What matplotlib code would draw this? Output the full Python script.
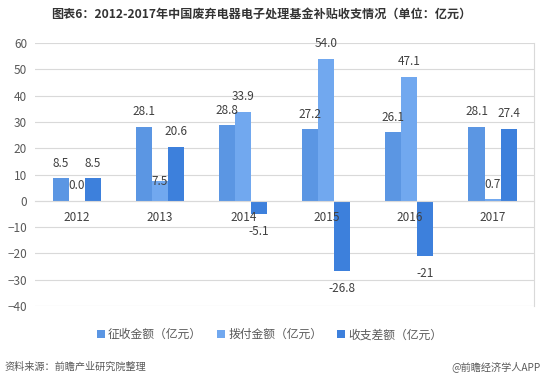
import matplotlib.pyplot as plt
import numpy as np

plt.rcParams['font.family'] = ['Noto Sans CJK SC', 'DejaVu Sans']

years = ['2012', '2013', '2014', '2015', '2016', '2017']
collected = [8.5, 28.1, 28.8, 27.2, 26.1, 28.1]
paid = [0.0, 7.5, 33.9, 54.0, 47.1, 0.7]
balance = [8.5, 20.6, -5.1, -26.8, -21, 27.4]
balance_text = ['8.5', '20.6', '-5.1', '-26.8', '-21', '27.4']
series_names = ['征收金额（亿元）', '拨付金额（亿元）', '收支差额（亿元）']
colors = ['#5b96e3', '#71a8ef', '#3d80dc']

fig = plt.figure(figsize=(5.45, 3.77), dpi=100)
ax = fig.add_axes([0.065, 0.188, 0.915, 0.698])

x = np.arange(len(years))
w = 0.193
grid_c = '#d9d9d9'
txt_c = '#404040'

all_series = [collected, paid, balance]
for i, vals in enumerate(all_series):
    bars = ax.bar(x + (i - 1) * w, vals, w, color=colors[i], label=series_names[i], zorder=2)
    for j, b in enumerate(bars):
        v = vals[j]
        s = balance_text[j] if i == 2 else f'{v:.1f}'
        cx = b.get_x() + b.get_width() / 2
        if v >= 0:
            dy = 15
            # label of the small 2013 payout sits on the bar top
            if i == 1 and j == 1:
                dy = 0
        else:
            dy = -17
        ax.annotate(s, (cx, v), xytext=(0, dy), textcoords='offset pixels',
                    ha='center', va='center', fontsize=8.5, color=txt_c, zorder=4)

ax.set_xlim(-0.5, len(years) - 0.5)
ax.set_ylim(-40, 60)
ax.set_yticks(np.arange(-40, 61, 10))
ax.yaxis.grid(True, color=grid_c, linewidth=0.8, zorder=0)
ax.set_axisbelow(True)

ax.set_xticks(x)
ax.set_xticklabels(years)
ax.spines['bottom'].set_position(('data', 0))
ax.spines['bottom'].set_color(grid_c)
ax.spines['left'].set_visible(False)
ax.spines['top'].set_visible(False)
ax.spines['right'].set_color(grid_c)
ax.tick_params(axis='x', length=0, pad=7, labelsize=8.5, labelcolor=txt_c)
ax.tick_params(axis='y', length=0, pad=6, labelsize=8.5, labelcolor='#595959')
# year labels are drawn over the negative bars
ax.xaxis.set_zorder(5)

fig.text(0.48, 0.962, '图表6：2012-2017年中国废弃电器电子处理基金补贴收支情况（单位：亿元）',
         ha='center', va='center', fontsize=8.7, fontweight='bold', color='#333333')

fig.legend(loc='center', bbox_to_anchor=(0.495, 0.112), ncol=3, frameon=False,
           fontsize=8.5, handlelength=0.6, handleheight=0.6, handletextpad=0.3,
           columnspacing=1.3, labelcolor='#595959')

fig.text(0.008, 0.027, '资料来源：前瞻产业研究院整理', ha='left', va='center',
         fontsize=7.3, color='#595959', style='italic')
fig.text(0.992, 0.027, '@前瞻经济学人APP', ha='right', va='center',
         fontsize=7.3, color='#595959')

fig.savefig('out.png', dpi=100)
